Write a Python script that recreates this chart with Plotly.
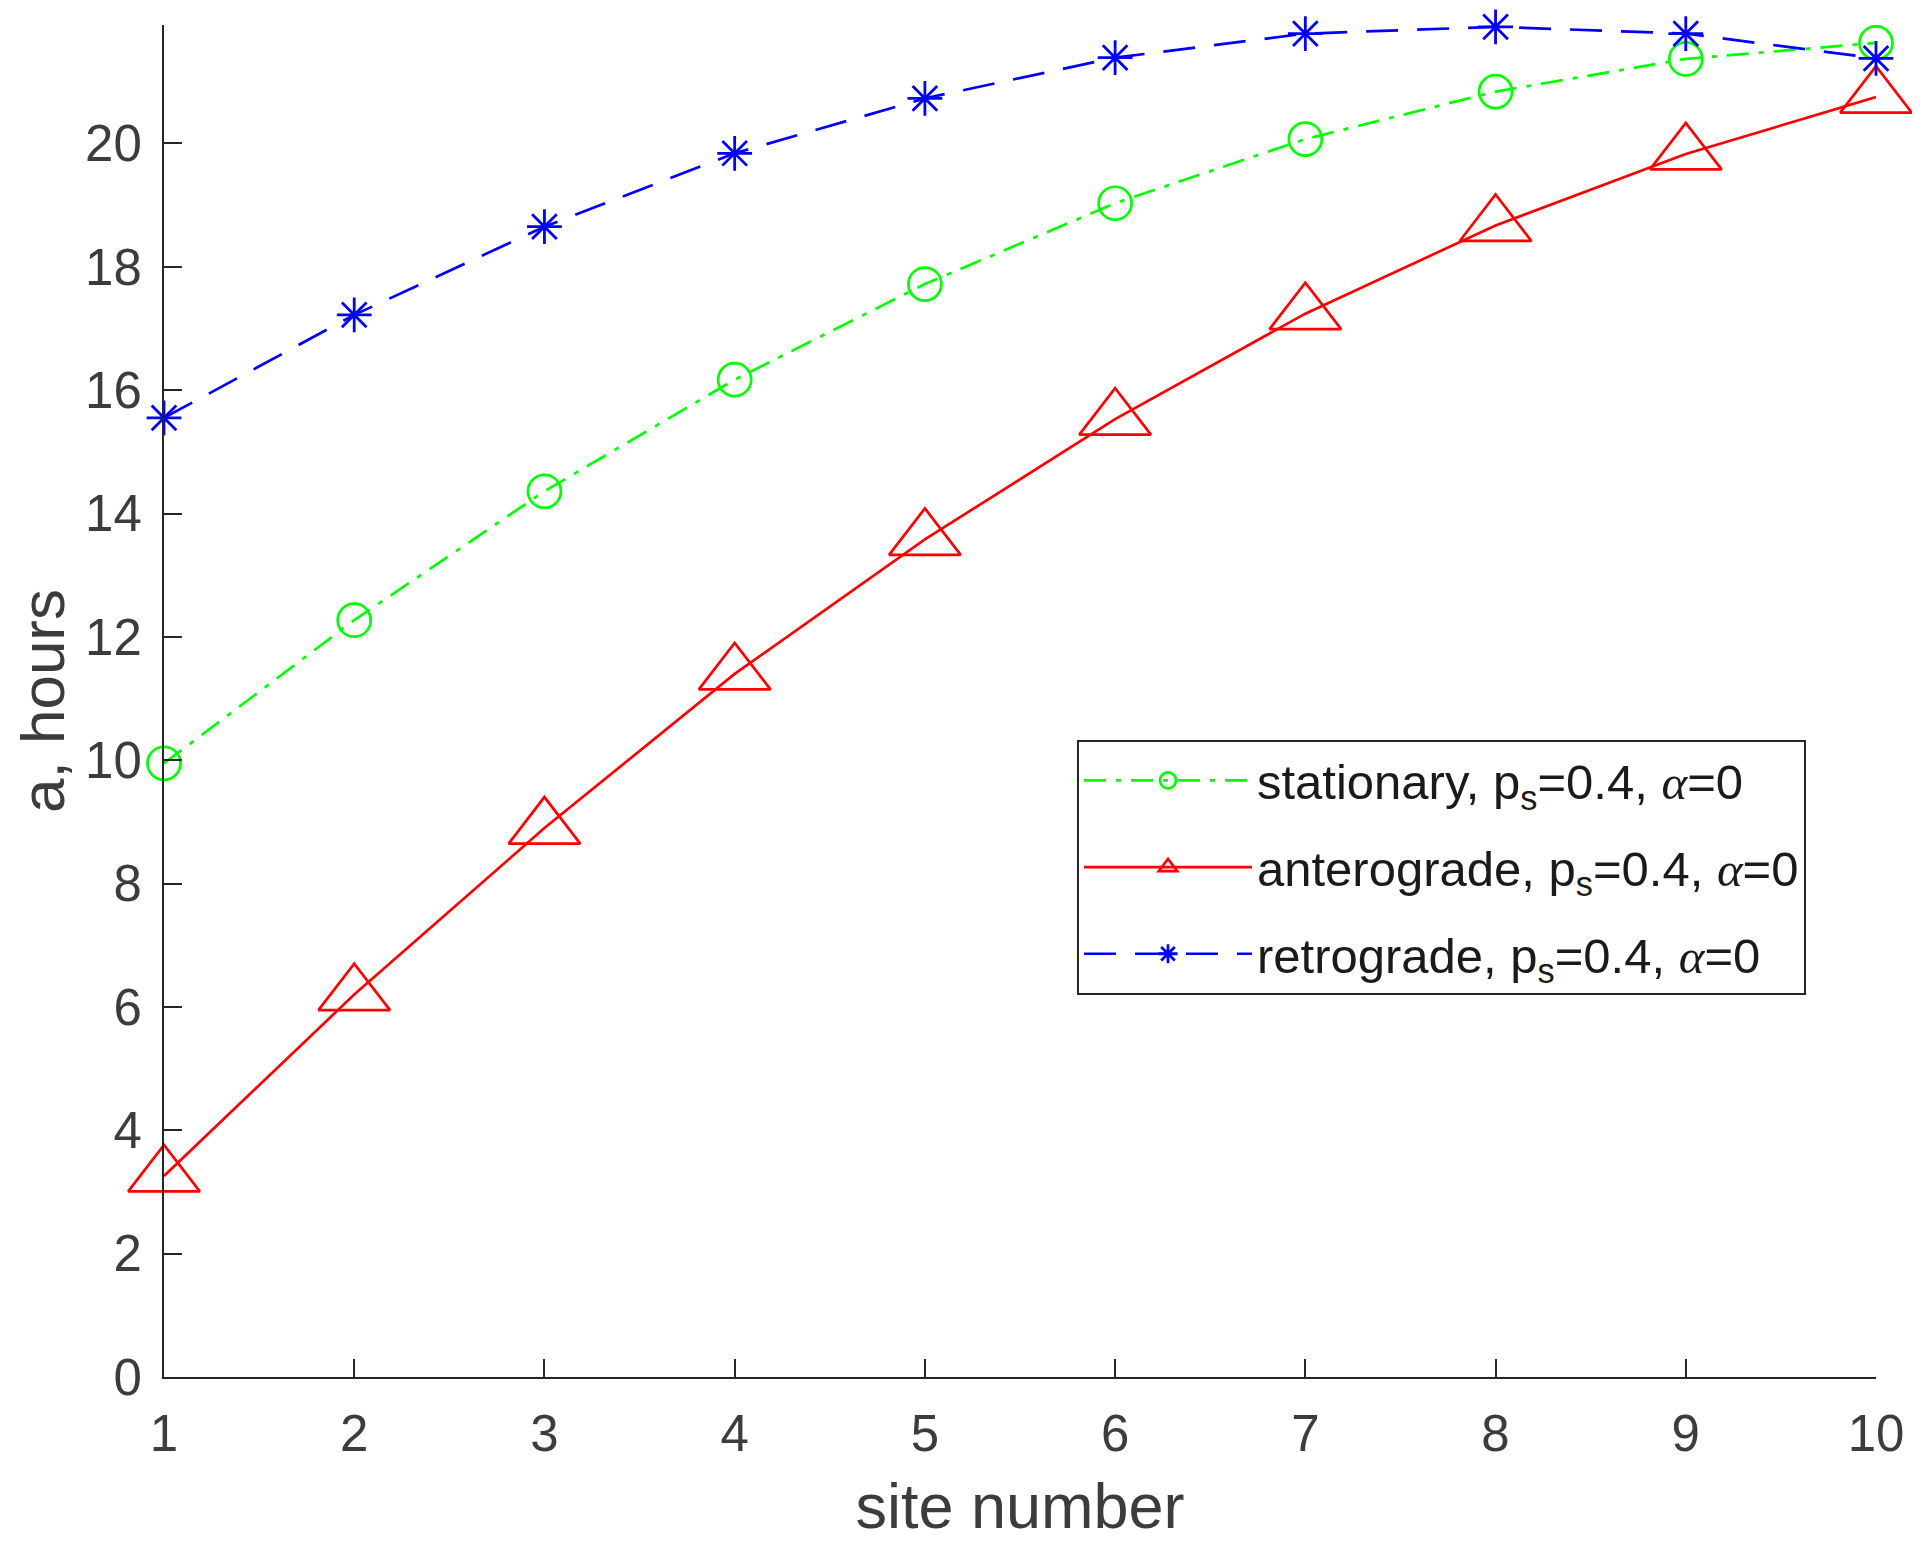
import plotly.graph_objects as go

site = [1, 2, 3, 4, 5, 6, 7, 8, 9, 10]
stationary = [9.95, 12.27, 14.36, 16.17, 17.72, 19.03, 20.07, 20.84, 21.37, 21.63]
anterograde = [3.26, 6.20, 8.90, 11.40, 13.58, 15.53, 17.24, 18.67, 19.83, 20.75]
retrograde = [15.55, 17.22, 18.65, 19.84, 20.73, 21.39, 21.78, 21.89, 21.78, 21.38]

y_ticks = [0, 2, 4, 6, 8, 10, 12, 14, 16, 18, 20]
x_ticks = site

alpha = "<span style=\"font-family:'Liberation Serif'\"><i>α</i></span>"
names = [
    "stationary, p<sub>s</sub>=0.4, " + alpha + "=0",
    "anterograde, p<sub>s</sub>=0.4, " + alpha + "=0",
    "retrograde, p<sub>s</sub>=0.4, " + alpha + "=0",
]

fig = go.Figure()
fig.add_trace(go.Scatter(
    x=site, y=stationary, name=names[0], mode="lines+markers", legendgroup="g1",
    line=dict(color="#00ff00", width=2.7, dash="22px,10px,5px,10px"),
    marker=dict(symbol="circle-open", size=33, color="#00ff00", line=dict(width=2.7, color="#00ff00")),
    cliponaxis=False,
))
fig.add_trace(go.Scatter(
    x=site, y=anterograde, name=names[1], mode="lines+markers", legendgroup="g2",
    line=dict(color="#ff0000", width=2.7),
    marker=dict(symbol="triangle-up-open", size=62, color="#ff0000", line=dict(width=2.7, color="#ff0000")),
    cliponaxis=False,
))
fig.add_trace(go.Scatter(
    x=site, y=retrograde, name=names[2], mode="lines+markers", legendgroup="g3",
    line=dict(color="#0000ff", width=2.7, dash="32px,19px"),
    marker=dict(symbol="asterisk-open", size=29, color="#0000ff", line=dict(width=2.8, color="#0000ff")),
    cliponaxis=False,
))

# page has an 8px body margin; compensate so the plot area lands where the reference has it
OFF = 8
W, H = 1920 - OFF, 1541 - OFF
L, R, T, B = 164 - OFF, 44, 25 - OFF, 164
pw, ph = W - L - R, H - T - B

axis_common = dict(
    showgrid=False, zeroline=False, showline=True, linecolor="#262626", linewidth=2,
    ticks="inside", ticklen=18, tickwidth=2, tickcolor="#262626",
    tickfont=dict(family="Liberation Sans, Arial, sans-serif", size=51, color="#3c3c3c"),
    mirror=False, automargin=True,
)

fig.update_layout(
    width=W, height=H,
    margin=dict(l=L, r=R, t=T, b=B, autoexpand=False),
    paper_bgcolor="white", plot_bgcolor="white",
    font=dict(family="Liberation Sans, Arial, sans-serif", color="#3c3c3c"),
    xaxis=dict(
        range=[1, 10], tickvals=x_ticks, ticktext=[str(v) for v in x_ticks],
        title=dict(text="site number", font=dict(size=63, color="#3c3c3c"), standoff=36),
        ticklabelstandoff=11,
        **axis_common,
    ),
    yaxis=dict(
        range=[0, 21.92], tickvals=y_ticks, ticktext=[str(v) for v in y_ticks],
        title=dict(text="a, hours", font=dict(size=62, color="#3c3c3c"), standoff=30),
        ticklabelstandoff=10,
        **axis_common,
    ),
    legend=dict(
        x=(1077 - 164) / pw, y=(1377 - 740) / ph, xanchor="left", yanchor="top",
        bgcolor="white", bordercolor="#262626", borderwidth=2,
        font=dict(family="Liberation Sans, Arial, sans-serif", size=49, color="#1a1a1a"),
        itemwidth=168, tracegroupgap=20, traceorder="grouped",
    ),
    showlegend=True,
)

fig.write_html("out.html")
